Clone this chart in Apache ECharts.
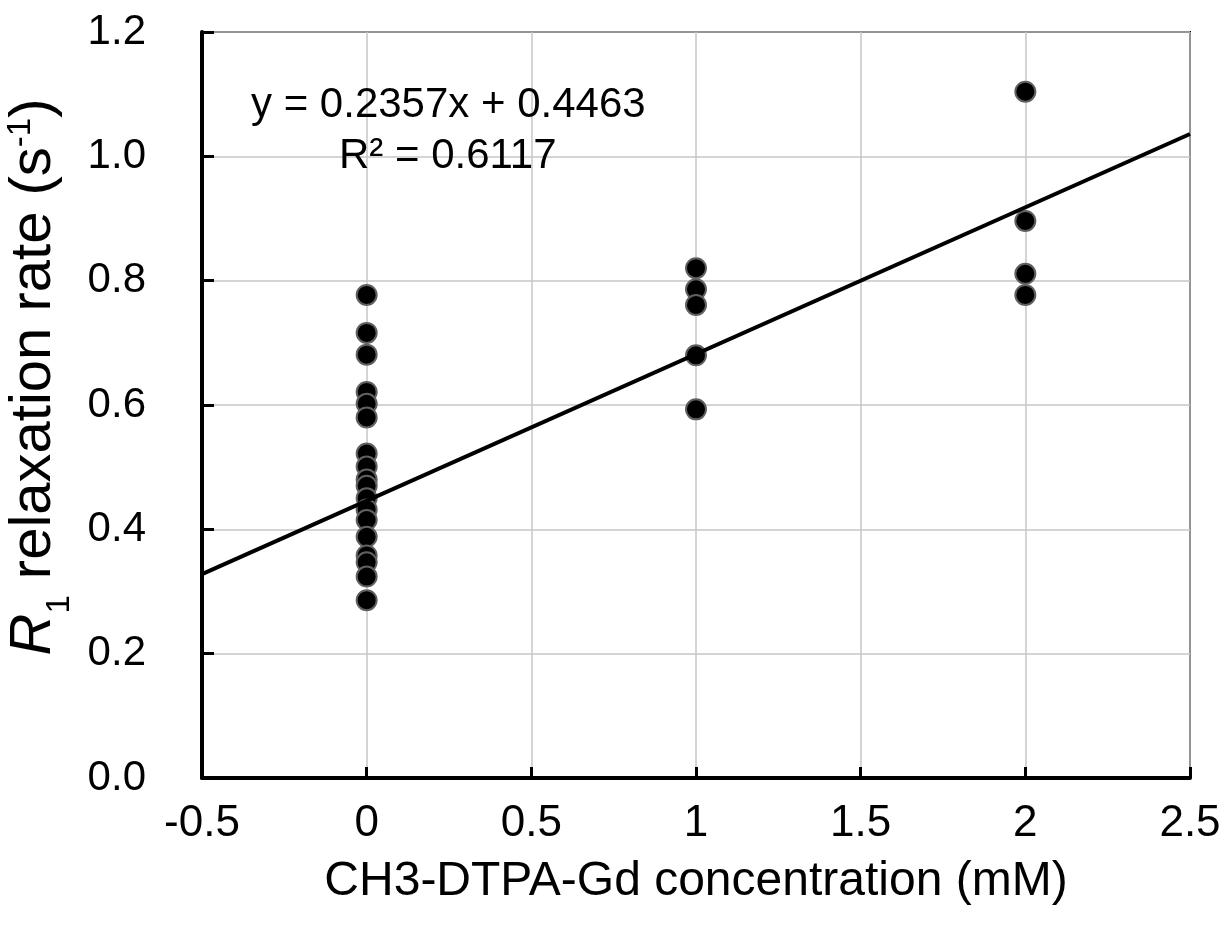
<!DOCTYPE html>
<html>
<head>
<meta charset="utf-8">
<script src="https://cdn.jsdelivr.net/npm/echarts@6/dist/echarts.min.js"></script>
<style>html,body{margin:0;padding:0;background:#fff}#c{width:1230px;height:927px}</style>
</head>
<body>
<div id="c"></div>
<script>
// Data
const conc0 = [0.777, 0.716, 0.681, 0.621, 0.602, 0.580, 0.522, 0.501, 0.480, 0.470, 0.450, 0.432, 0.415, 0.388, 0.358, 0.347, 0.324, 0.286];
const conc1 = [0.820, 0.786, 0.761, 0.680, 0.593];
const conc2 = [1.104, 0.896, 0.811, 0.777];
const concentrations = [0, 1, 2];
const trendX = [-0.5, 2.5];
const trendY = [0.328, 1.036];
const equationText = 'y = 0.2357x + 0.4463';
const r2Text = 'R² = 0.6117';
const yTickLabels = ['0.0', '0.2', '0.4', '0.6', '0.8', '1.0', '1.2'];
const xTickLabels = ['-0.5', '0', '0.5', '1', '1.5', '2', '2.5'];

const points = [];
[conc0, conc1, conc2].forEach((arr, i) => arr.forEach(v => points.push([concentrations[i], v])));
const trend = trendX.map((x, i) => [x, trendY[i]]);

const font = '"Liberation Sans", Arial, sans-serif';
const chart = echarts.init(document.getElementById('c'), null, {renderer: 'canvas'});
chart.setOption({
  animation: false,
  backgroundColor: '#fff',
  grid: {left: 202, right: 40, top: 32, bottom: 149, outerBoundsMode: 'none', containLabel: false,
    show: true, borderColor: '#000', borderWidth: 2, backgroundColor: 'transparent'},
  xAxis: {
    type: 'value', min: -0.5, max: 2.5, interval: 0.5,
    name: 'CH3-DTPA-Gd concentration (mM)', nameLocation: 'middle', nameGap: 80,
    nameTextStyle: {fontFamily: font, fontSize: 48, color: '#000'},
    axisLine: {show: true, onZero: false, lineStyle: {color: '#000', width: 4}},
    axisTick: {show: true, inside: true, length: 11, lineStyle: {color: '#000', width: 3}},
    splitLine: {show: true, lineStyle: {color: '#c6c6c6', width: 1.5}},
    axisLabel: {margin: 24, fontFamily: font, fontSize: 44, color: '#000',
      formatter: (v) => xTickLabels[Math.round((v + 0.5) / 0.5)]}
  },
  yAxis: {
    type: 'value', min: 0, max: 1.2, interval: 0.2,
    name: '{i|R}{sub|1}{n| relaxation rate (s}{sup|-1}{n|)}', nameLocation: 'middle', nameGap: 116, nameRotate: 90,
    nameTextStyle: {
      color: '#000', fontFamily: font, fontSize: 58, padding: [0, 0, 0, 56],
      rich: {
        i: {fontStyle: 'italic', fontSize: 58, fontFamily: font, color: '#000', lineHeight: 66},
        n: {fontSize: 58, fontFamily: font, color: '#000', lineHeight: 66},
        sub: {fontSize: 33, fontFamily: font, color: '#000', verticalAlign: 'bottom', lineHeight: 66, padding: [0, 0, -10, 0]},
        sup: {fontSize: 33, fontFamily: font, color: '#000', verticalAlign: 'top', lineHeight: 66, padding: [4, 0, 0, 0]}
      }
    },
    axisLine: {show: true, onZero: false, lineStyle: {color: '#000', width: 4}},
    axisTick: {show: true, inside: true, length: 12, lineStyle: {color: '#000', width: 3}},
    splitLine: {show: true, lineStyle: {color: '#c6c6c6', width: 1.5}},
    axisLabel: {margin: 56, fontFamily: font, fontSize: 42, color: '#000',
      formatter: (v) => yTickLabels[Math.round(v / 0.2)]}
  },
  series: [
    {
      type: 'scatter', data: points, symbol: 'circle', symbolSize: 20, z: 3,
      itemStyle: {color: '#000', opacity: 1, borderColor: '#606060', borderWidth: 2}
    },
    {
      type: 'line', data: trend, showSymbol: false, z: 4,
      lineStyle: {color: '#000', width: 4}
    }
  ],
  graphic: [
    {type: 'text', left: 251, top: 84, z: 10, style: {text: equationText, fontFamily: font, fontSize: 42, fill: '#000'}},
    {type: 'text', left: 339, top: 135, z: 10, style: {text: r2Text, fontFamily: font, fontSize: 42, fill: '#000'}}
  ]
});
</script>
</body>
</html>
